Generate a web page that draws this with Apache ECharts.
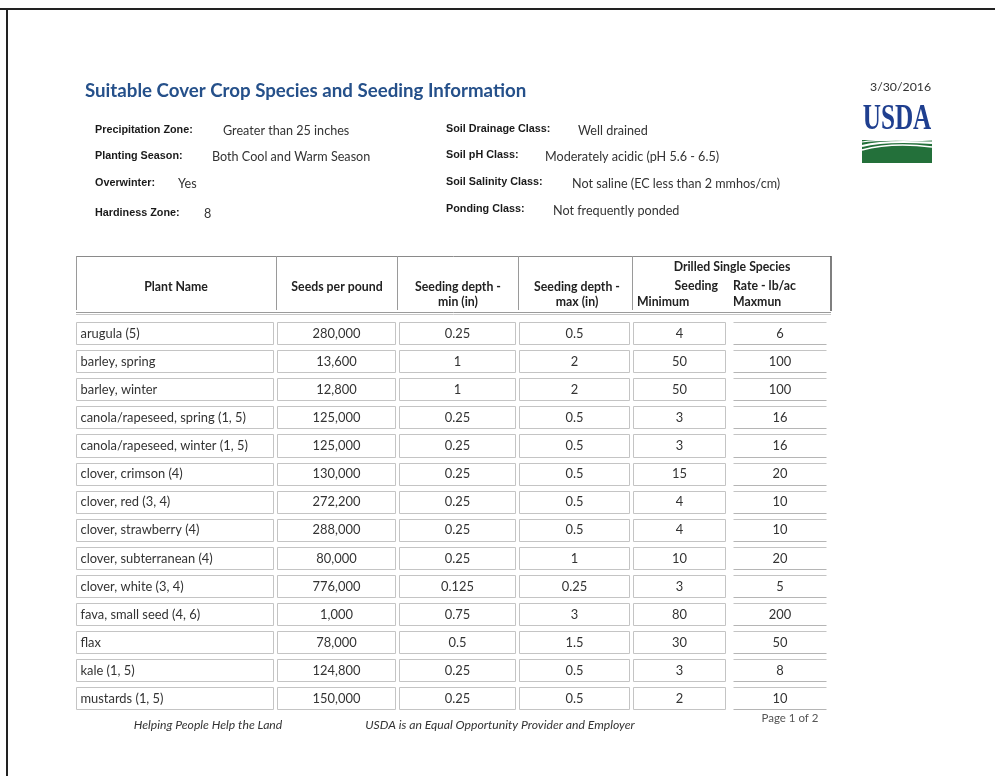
<!DOCTYPE html>
<html>
<head>
<meta charset="utf-8">
<script src="https://cdn.jsdelivr.net/npm/echarts@6/dist/echarts.min.js"></script>
<style>
  html, body { margin: 0; padding: 0; background: #fff; }
  #chartsDiv { width: 995px; height: 776px; }
</style>
</head>
<body>
<div id="chartsDiv"></div>
<script>
// table values
var plantNames = ['arugula (5)', 'barley, spring', 'barley, winter', 'canola/rapeseed, spring (1, 5)',
  'canola/rapeseed, winter (1, 5)', 'clover, crimson (4)', 'clover, red (3, 4)', 'clover, strawberry (4)',
  'clover, subterranean (4)', 'clover, white (3, 4)', 'fava, small seed (4, 6)', 'flax', 'kale (1, 5)',
  'mustards (1, 5)'];
var seedsPerPound = [280000, 13600, 12800, 125000, 125000, 130000, 272200, 288000, 80000, 776000, 1000, 78000, 124800, 150000];
var depthMin = [0.25, 1, 1, 0.25, 0.25, 0.25, 0.25, 0.25, 0.25, 0.125, 0.75, 0.5, 0.25, 0.25];
var depthMax = [0.5, 2, 2, 0.5, 0.5, 0.5, 0.5, 0.5, 1, 0.25, 3, 1.5, 0.5, 0.5];
var rateMin = [4, 50, 50, 3, 3, 15, 4, 4, 10, 3, 80, 30, 3, 2];
var rateMax = [6, 100, 100, 16, 16, 20, 10, 10, 20, 5, 200, 50, 8, 10];

var metaLeft = [
  ['Precipitation Zone:', 'Greater than 25 inches'],
  ['Planting Season:', 'Both Cool and Warm Season'],
  ['Overwinter:', 'Yes'],
  ['Hardiness Zone:', '8']
];
var metaRight = [
  ['Soil Drainage Class:', 'Well drained'],
  ['Soil pH Class:', 'Moderately acidic (pH 5.6 - 6.5)'],
  ['Soil Salinity Class:', 'Not saline (EC less than 2 mmhos/cm)'],
  ['Ponding Class:', 'Not frequently ponded']
];

// column extents in table units (0 = left edge of the table)
var colLeft = [0, 201, 323, 443, 557, 657];
var colRight = [197, 319, 439, 553, 649, 750];

var FONT = 'Lato, "Open Sans", sans-serif';
var realChart = echarts.init(document.getElementById('chartsDiv'));

var cells = [];
plantNames.forEach(function (name, r) {
  var row = [name, echarts.format.addCommas(seedsPerPound[r]), String(depthMin[r]),
    String(depthMax[r]), String(rateMin[r]), String(rateMax[r])];
  row.forEach(function (txt, c) {
    cells.push([colLeft[c], colRight[c], r, txt, c]);
  });
});

function txt(text, x, y, font, fill, align) {
  return {
    type: 'text',
    silent: true,
    style: {
      text: text, x: x, y: y, font: font, fill: fill || '#333',
      textAlign: align || 'left', textVerticalAlign: 'middle',
      align: align || 'left', verticalAlign: 'middle'
    }
  };
}
function line(x1, y1, x2, y2, color, w) {
  return {
    type: 'line', silent: true,
    shape: { x1: x1, y1: y1, x2: x2, y2: y2 },
    style: { stroke: color, lineWidth: w || 1 }
  };
}

var graphics = [];
// page frame (top + left only)
graphics.push(line(0, 9, 995, 9, '#222', 2));
graphics.push(line(7, 9, 7, 776, '#222', 2));

// title, date
graphics.push(txt('Suitable Cover Crop Species and Seeding Information', 85, 91, 'bold 18.7px ' + FONT, '#25508a'));
graphics.push(txt('3/30/2016', 870, 87, '12.3px ' + FONT, '#333'));

// USDA logo
graphics.push({
  type: 'text', silent: true, x: 897, y: 138, scaleX: 0.7,
  style: { text: 'USDA', x: 0, y: 0, font: 'bold 36px "Liberation Serif", serif', fill: '#1f3f8f',
    textAlign: 'center', align: 'center', textVerticalAlign: 'bottom', verticalAlign: 'bottom' }
});
graphics.push({ type: 'rect', silent: true, shape: { x: 862, y: 140, width: 70, height: 23 }, style: { fill: '#23703a' } });
graphics.push({ type: 'bezierCurve', silent: true,
  shape: { x1: 862, y1: 146, cpx1: 885, cpy1: 140, x2: 932, y2: 143 },
  style: { stroke: '#fff', lineWidth: 2, fill: null } });
graphics.push({ type: 'bezierCurve', silent: true,
  shape: { x1: 862, y1: 150, cpx1: 892, cpy1: 142, x2: 932, y2: 147 },
  style: { stroke: '#fff', lineWidth: 1.5, fill: null } });
graphics.push({ type: 'bezierCurve', silent: true,
  shape: { x1: 862, y1: 142, cpx1: 880, cpy1: 139, x2: 932, y2: 141 },
  style: { stroke: '#fff', lineWidth: 1.2, fill: null } });

// site info
var metaY = [130, 156, 183, 213];
var metaRY = [130, 156, 183, 210];
var leftValX = [223, 212, 178, 204];
var rightValX = [578, 545, 572, 553];
var LB = 'bold 10.8px "Liberation Sans", Arial, sans-serif';
metaLeft.forEach(function (m, i) {
  graphics.push(txt(m[0], 95, metaY[i], LB, '#1a1a1a'));
  graphics.push(txt(m[1], leftValX[i], metaY[i] + 1, '12.6px ' + FONT, '#333'));
});
metaRight.forEach(function (m, i) {
  graphics.push(txt(m[0], 446, metaRY[i] - 1, LB, '#1a1a1a'));
  graphics.push(txt(m[1], rightValX[i], metaRY[i] + 1, '12.6px ' + FONT, '#333'));
});

// header block
graphics.push(line(76, 256.5, 831, 256.5, '#8a8a8a'));
[76.5, 276.5, 397.5, 518.5, 632.5].forEach(function (x) {
  graphics.push(line(x, 256, x, 310, '#9a9a9a'));
});
graphics.push(line(831, 256, 831, 311, '#555', 1.5));
graphics.push(line(76, 312.5, 831, 312.5, '#9a9a9a'));
graphics.push(line(76, 314.5, 831, 314.5, '#c8c8c8'));
var HB = 'bold 12.3px ' + FONT;
graphics.push(txt('Plant Name', 176, 287, HB, '#222', 'center'));
graphics.push(txt('Seeds per pound', 337, 287, HB, '#222', 'center'));
graphics.push(txt('Seeding depth -', 458, 287, HB, '#222', 'center'));
graphics.push(txt('min (in)', 458, 302, HB, '#222', 'center'));
graphics.push(txt('Seeding depth -', 577, 287, HB, '#222', 'center'));
graphics.push(txt('max (in)', 577, 302, HB, '#222', 'center'));
graphics.push(txt('Drilled Single Species', 732, 267, HB, '#222', 'center'));
graphics.push(txt('Seeding', 718, 286, HB, '#222', 'right'));
graphics.push(txt('Rate - lb/ac', 733, 286, HB, '#222', 'left'));
graphics.push(txt('Minimum', 637, 302, HB, '#222', 'left'));
graphics.push(txt('Maxmun', 733, 302, HB, '#222', 'left'));

// footer
graphics.push(txt('Helping People Help the Land', 208, 725, 'italic 12.2px ' + FONT, '#333', 'center'));
graphics.push(txt('USDA is an Equal Opportunity Provider and Employer', 500, 725, 'italic 12.2px ' + FONT, '#333', 'center'));
graphics.push(txt('Page 1 of 2', 790, 718, '11.5px ' + FONT, '#555', 'center'));

var option = {
  backgroundColor: '#fff',
  animation: false,
  graphic: graphics,
  grid: { left: 76, top: 319, width: 755, height: 393.4 },
  xAxis: { type: 'value', min: 0, max: 755, show: false },
  yAxis: { type: 'category', inverse: true, data: plantNames, show: false },
  series: [{
    type: 'custom',
    silent: true,
    encode: { x: [0, 1], y: 2 },
    data: cells,
    renderItem: function (params, api) {
      var p0 = api.coord([api.value(0), api.value(2)]);
      var p1 = api.coord([api.value(1), api.value(2)]);
      var band = api.size([0, 1])[1];
      var h = band - 6;
      var x0 = Math.round(p0[0]) + 0.5, x1 = Math.round(p1[0]) + 0.5;
      var y0 = Math.round(p0[1] - h / 2) + 0.5, y1 = Math.round(p0[1] + h / 2) + 0.5;
      var c = api.value(4);
      var text = api.value(3);
      var kids = [];
      if (c === 5) {
        kids.push({ type: 'line', shape: { x1: x0, y1: y0, x2: x1, y2: y0 }, style: { stroke: '#c4c4c4', lineWidth: 1 } });
        kids.push({ type: 'line', shape: { x1: x0, y1: y1, x2: x1, y2: y1 }, style: { stroke: '#b5b5b5', lineWidth: 1 } });
      } else {
        kids.push({ type: 'rect', shape: { x: x0, y: y0, width: x1 - x0, height: y1 - y0 },
          style: { fill: '#fff', stroke: '#c4c4c4', lineWidth: 1 } });
      }
      var left = c === 0;
      kids.push({
        type: 'text',
        style: {
          text: text,
          x: left ? x0 + 4 : (x0 + x1) / 2,
          y: p0[1] + 0.5,
          font: '12.9px ' + FONT,
          fill: '#333',
          textAlign: left ? 'left' : 'center', align: left ? 'left' : 'center',
          textVerticalAlign: 'middle', verticalAlign: 'middle'
        }
      });
      return { type: 'group', children: kids };
    }
  }]
};

realChart.setOption(option);
</script>
</body>
</html>
